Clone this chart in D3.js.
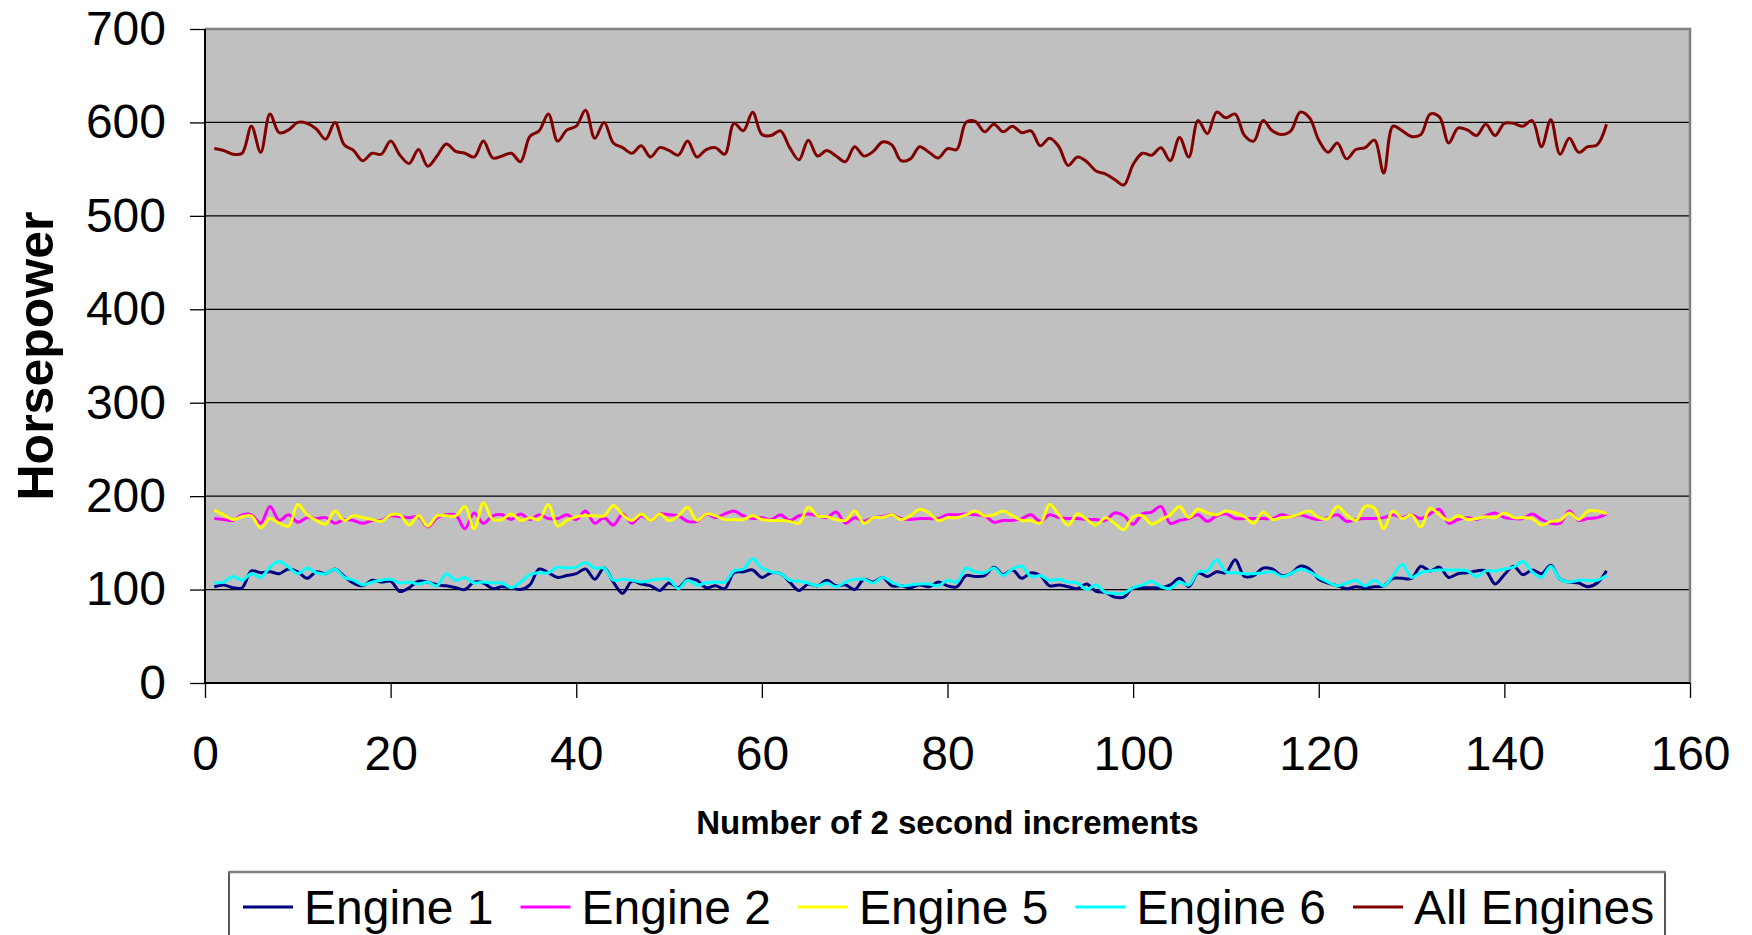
<!DOCTYPE html>
<html>
<head>
<meta charset="utf-8">
<script src="https://cdn.jsdelivr.net/npm/d3@7"></script>
<style>
  html, body { margin: 0; padding: 0; background: #fff; }
  svg { display: block; }
  text { font-family: Arial, "Liberation Sans", sans-serif; fill: #000; }
</style>
</head>
<body>
<svg id="chart" width="1752" height="935"></svg>
<script>
// ---------- DATA ----------
const seriesNames = ["Engine 1", "Engine 2", "Engine 5", "Engine 6", "All Engines"];
const seriesColors = ["#000080", "#FF00FF", "#FFFF00", "#00FFFF", "#800000"];
const xTicks = [0, 20, 40, 60, 80, 100, 120, 140, 160];
const yTicks = [0, 100, 200, 300, 400, 500, 600, 700];
const xLabel = "Number of 2 second increments";
const yLabel = "Horsepower";

const engine1 = [103,105,102,102,120,118,119,117,122,119,112,119,117,122,114,107,104,110,108,109,98,102,109,108,105,104,102,100,108,107,101,103,102,100,105,122,118,113,115,117,122,111,123,108,96,109,106,104,99,107,102,111,110,
102,104,101,118,119,121,113,118,117,108,99,106,104,110,104,105,100,111,108,113,104,104,102,105,103,108,104,103,115,114,115,124,116,121,112,118,115,104,105,103,101,106,98,97,92,92,102,102,102,102,105,112,103,118,
114,119,118,132,114,115,123,122,115,117,125,122,111,107,104,101,103,102,103,104,112,112,112,125,120,124,113,117,118,120,120,106,116,125,116,121,117,126,111,108,107,103,107,120];

const engine2 = [176,175,174,180,180,171,189,174,180,172,177,176,177,171,175,174,171,174,174,179,178,177,178,167,177,180,180,165,182,171,179,180,175,181,175,180,176,176,180,175,184,171,177,169,181,171,179,174,181,180,179,173,173,
181,177,181,184,179,176,177,175,180,174,179,181,179,177,183,171,177,173,177,178,180,176,175,176,176,176,180,180,181,180,179,172,174,174,176,180,173,180,177,176,176,175,175,174,182,179,170,181,183,189,171,174,176,180,
173,179,181,176,176,176,176,176,180,178,180,177,175,177,180,173,175,176,176,177,180,177,180,176,181,186,171,175,177,175,179,182,177,176,176,181,175,171,171,184,174,176,177,181];

const engine5 = [185,180,175,178,179,166,176,171,168,191,180,174,170,184,174,179,177,175,173,180,180,169,179,168,179,179,179,189,165,193,175,175,181,174,177,175,191,168,174,178,179,179,179,190,180,174,181,174,181,174,179,188,174,
181,179,175,175,175,179,175,174,174,173,171,188,179,178,175,174,184,171,177,177,180,175,179,186,182,174,177,177,180,184,179,180,184,179,174,174,171,191,180,169,181,175,169,177,171,164,178,179,170,175,180,189,177,186,
182,180,184,182,178,171,183,175,177,178,181,184,177,176,189,180,174,189,187,165,184,176,180,167,187,180,174,179,175,176,178,177,182,177,177,176,169,173,174,182,175,184,184,181];

const engine6 = [107,108,114,110,117,113,124,130,124,117,123,118,117,122,113,110,105,108,110,111,107,108,106,108,104,117,110,113,107,108,107,107,102,108,116,118,118,124,123,124,129,123,123,110,111,110,108,110,111,111,101,110,105,
107,108,108,120,122,133,123,119,117,110,109,107,104,107,103,108,111,111,107,113,108,104,105,106,106,104,110,108,123,119,118,123,115,122,125,114,115,110,111,108,107,100,105,97,96,96,102,105,109,103,101,108,105,119,
120,132,119,118,117,117,118,119,114,117,122,119,113,108,104,107,110,104,110,104,115,127,113,118,120,121,121,121,120,114,120,120,122,124,130,119,113,125,111,108,110,110,110,115];

const allEngines = [572,570,566,567,596,568,609,589,592,600,599,593,582,600,576,570,559,567,566,580,565,556,571,553,564,577,569,567,563,580,562,564,567,558,585,591,609,580,592,596,613,583,600,578,573,567,575,563,573,570,565,580,563,
571,573,566,599,591,611,587,586,591,573,560,581,564,570,564,558,574,564,569,579,576,559,561,574,568,562,572,571,600,601,590,598,590,596,589,591,575,583,574,554,563,558,548,545,539,533,555,567,565,573,559,584,563,602,
588,611,605,609,586,580,602,591,587,591,611,605,581,568,578,561,571,573,581,546,596,591,585,587,609,606,578,594,592,586,598,586,599,599,596,602,574,603,566,583,568,574,576,598];

const seriesValues = [engine1, engine2, engine5, engine6, allEngines];

// ---------- CHART ----------
const svg = d3.select("#chart");
const L = 205, R = 1690, T = 29, B = 683;

const x = d3.scaleLinear().domain([0, 160]).range([L, R]);
const y = d3.scaleLinear().domain([0, 700]).range([B, T]);

// plot background
svg.append("rect").attr("x", L).attr("y", T).attr("width", R - L).attr("height", B - T)
  .attr("fill", "#C0C0C0");

// gridlines
svg.append("g").selectAll("line").data(yTicks.filter(v => v > 0 && v < 700)).join("line")
  .attr("x1", L).attr("x2", R)
  .attr("y1", d => y(d)).attr("y2", d => y(d))
  .attr("stroke", "#000").attr("stroke-width", 1.3);

// border top/right gray
svg.append("path")
  .attr("d", `M${L},${y(700)}H${R}V${B}`)
  .attr("fill", "none").attr("stroke", "#808080").attr("stroke-width", 2.5);

// Y axis
const yAxis = svg.append("g").attr("transform", `translate(${L},0)`)
  .call(d3.axisLeft(y).tickValues(yTicks).tickSize(15).tickPadding(24).tickFormat(d3.format("d")));
yAxis.select(".domain").remove();
yAxis.selectAll(".tick line").attr("stroke", "#000").attr("stroke-width", 1.3);
yAxis.selectAll(".tick text").attr("font-size", 48).attr("font-family", "Arial, 'Liberation Sans', sans-serif").attr("fill", "#000");

// X axis
const xAxis = svg.append("g").attr("transform", `translate(0,${B})`)
  .call(d3.axisBottom(x).tickValues(xTicks).tickSize(15).tickPadding(38).tickFormat(d3.format("d")));
xAxis.select(".domain").remove();
xAxis.selectAll(".tick line").attr("stroke", "#000").attr("stroke-width", 1.3);
xAxis.selectAll(".tick text").attr("font-size", 48).attr("font-family", "Arial, 'Liberation Sans', sans-serif").attr("fill", "#000");

// axis lines
svg.append("line").attr("x1", L).attr("x2", L).attr("y1", T).attr("y2", B)
  .attr("stroke", "#000").attr("stroke-width", 2);
svg.append("line").attr("x1", L).attr("x2", R).attr("y1", B).attr("y2", B)
  .attr("stroke", "#000").attr("stroke-width", 2);

// series lines
const line = d3.line()
  .x((d, i) => x(i + 1))
  .y(d => y(d))
  .curve(d3.curveCatmullRom.alpha(0.5));

svg.append("g").selectAll("path").data(seriesValues).join("path")
  .attr("d", d => line(d))
  .attr("fill", "none")
  .attr("stroke", (d, i) => seriesColors[i])
  .attr("stroke-width", 3)
  .attr("stroke-linejoin", "round");

// axis titles
svg.append("text").attr("x", (L + R) / 2).attr("y", 834)
  .attr("text-anchor", "middle").attr("font-size", 33).attr("font-weight", "bold")
  .text(xLabel);

svg.append("text")
  .attr("transform", `translate(53,${(T + B) / 2}) rotate(-90)`)
  .attr("text-anchor", "middle").attr("font-size", 50).attr("font-weight", "bold")
  .text(yLabel);

// legend
const legX = 229, legY = 872, legW = 1436;
svg.append("rect").attr("x", legX).attr("y", legY).attr("width", legW).attr("height", 100)
  .attr("fill", "#fff").attr("stroke", "#000").attr("stroke-width", 1.3);
svg.append("line").attr("x1", legX).attr("x2", legX + legW).attr("y1", legY).attr("y2", legY)
  .attr("stroke", "#808080").attr("stroke-width", 2.5);

const legG = svg.append("g");
let cx = 243;
const ly = 907;
seriesNames.forEach((name, i) => {
  legG.append("line").attr("x1", cx).attr("x2", cx + 50).attr("y1", ly).attr("y2", ly)
    .attr("stroke", seriesColors[i]).attr("stroke-width", 3);
  const t = legG.append("text").attr("x", cx + 61).attr("y", ly + 17)
    .attr("font-size", 48).text(name);
  const w = t.node().getComputedTextLength();
  cx = cx + 61 + w + 27;
});
</script>
</body>
</html>
